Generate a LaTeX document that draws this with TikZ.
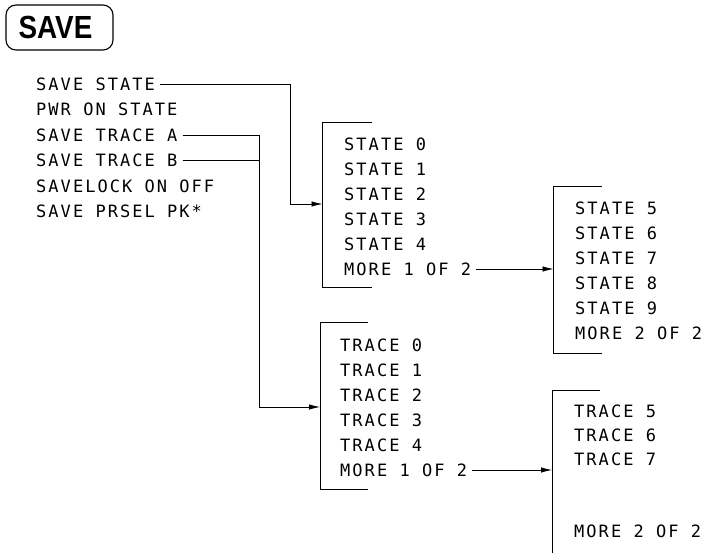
\documentclass[tikz,border=0pt]{standalone}
\usepackage{fontspec}
\setmainfont{Liberation Sans}
\newfontfamily\menufont{DejaVu Sans Mono}[LetterSpace=12]
\newfontfamily\keyfont{Liberation Sans}[FakeStretch=0.87]
\usetikzlibrary{arrows.meta}
\tikzset{
  softkey/.style={draw, rounded corners=10pt, line width=1.1pt, minimum width=107pt,
                  minimum height=45pt, inner sep=0pt, font=\keyfont\bfseries\fontsize{32}{32}\selectfont},
  item/.style   ={anchor=west, inner xsep=5pt, inner ysep=0pt, font=\menufont\fontsize{17}{17}\selectfont},
  link/.style   ={line width=0.8pt},
  arrow/.style  ={link, -{Latex[length=11pt,width=5.5pt]}},
}
\begin{document}
\begin{tikzpicture}[x=1pt, y=-1pt]
    \useasboundingbox (0,0) rectangle (715,553);
    % hard key
    \node[softkey] (save) at (59.5,27.5) {SAVE\hspace*{8pt}};
    % save menu
    \node[item] (ss)  at (31,84)  {SAVE STATE};
    \node[item] (pwr) at (31,109.5) {PWR ON STATE};
    \node[item] (sta) at (31,135) {SAVE TRACE A};
    \node[item] (stb) at (31,160.5) {SAVE TRACE B};
    \node[item] (lck) at (31,186) {SAVELOCK ON OFF};
    \node[item] (psl) at (31,211.5) {SAVE PRSEL PK*};
    % state menu, page 1
    \coordinate (stTop) at (322.5,122);
    \coordinate (stBot) at (322.5,287);
    \coordinate (stIn)  at (322.5,204);
    \coordinate (jS)    at (290.5,204);
    \node[item] (s0) at (339,144) {STATE 0};
    \node[item] (s1) at (339,169) {STATE 1};
    \node[item] (s2) at (339,194) {STATE 2};
    \node[item] (s3) at (339,219) {STATE 3};
    \node[item] (s4) at (339,244) {STATE 4};
    \node[item] (sm1) at (339,269) {MORE 1 OF 2};
    % state menu, page 2
    \coordinate (st2Top) at (553.5,186);
    \coordinate (st2Bot) at (553.5,353);
    \node[item] (s5) at (570,208) {STATE 5};
    \node[item] (s6) at (570,233) {STATE 6};
    \node[item] (s7) at (570,258) {STATE 7};
    \node[item] (s8) at (570,283) {STATE 8};
    \node[item] (s9) at (570,308) {STATE 9};
    \node[item] (sm2) at (570,333) {MORE 2 OF 2};
    % trace menu, page 1
    \coordinate (trTop) at (320,322);
    \coordinate (trBot) at (320,489);
    \coordinate (trIn)  at (320,407);
    \coordinate (jT)    at (259,407);
    \node[item] (t0) at (335,345) {TRACE 0};
    \node[item] (t1) at (335,370) {TRACE 1};
    \node[item] (t2) at (335,395) {TRACE 2};
    \node[item] (t3) at (335,420) {TRACE 3};
    \node[item] (t4) at (335,445) {TRACE 4};
    \node[item] (tm1) at (335,470) {MORE 1 OF 2};
    % trace menu, page 2
    \coordinate (tr2Top) at (552,390);
    \coordinate (tr2Bot) at (552,553);
    \node[item] (t5) at (569,411) {TRACE 5};
    \node[item] (t6) at (569,435) {TRACE 6};
    \node[item] (t7) at (569,459) {TRACE 7};
    \node[item] (tm2) at (569,531) {MORE 2 OF 2};
    % brackets
    \draw[link] ([xshift=49pt]stTop) -- (stTop) -- (stBot) -- ([xshift=49pt]stBot);
    \draw[link] ([xshift=48pt]st2Top) -- (st2Top) -- (st2Bot) -- ([xshift=48pt]st2Bot);
    \draw[link] ([xshift=48pt]trTop) -- (trTop) -- (trBot) -- ([xshift=48pt]trBot);
    \draw[link] ([xshift=48pt]tr2Top) -- (tr2Top) -- (tr2Bot);
    % connectors
    \draw[arrow] (ss.east) -| (jS) -- (stIn);
    \draw[arrow] (sta.east) -| (jT) -- (trIn);
    \draw[link] (stb.east) -- (stb.east -| jT);
    \draw[arrow] (sm1.east) -- (sm1.east -| st2Top);
    \draw[arrow] (tm1.east) -- (tm1.east -| tr2Top);
\end{tikzpicture}
\end{document}
